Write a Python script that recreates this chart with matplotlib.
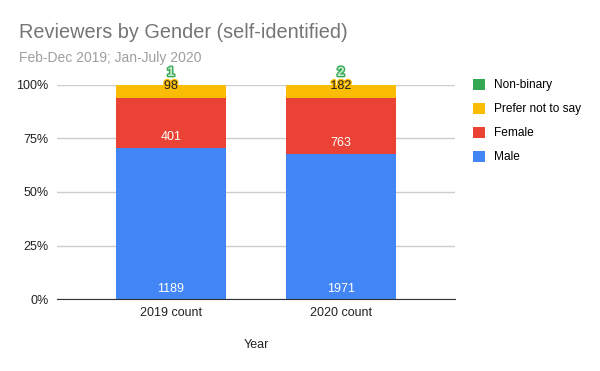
import matplotlib.pyplot as plt
import matplotlib.patheffects as pe
import numpy as np

plt.rcParams['font.family'] = ['Liberation Sans', 'DejaVu Sans']

# dane
years = ['2019 count', '2020 count']
male = np.array([1189, 1971])
female = np.array([401, 763])
prefer_not = np.array([98, 182])
non_binary = np.array([1, 2])

series = [('Male', male, '#4285F4'),
          ('Female', female, '#EA4335'),
          ('Prefer not to say', prefer_not, '#FBBC04'),
          ('Non-binary', non_binary, '#34A853')]

total = male + female + prefer_not + non_binary
x = np.arange(len(years))

fig = plt.figure(figsize=(6, 3.71), dpi=100)
ax = fig.add_axes([0.095, 0.194, 0.663, 0.577])

bottom = np.zeros(len(years))
handles = []
for name, vals, col in series:
    frac = vals / total * 100
    h = ax.bar(x, frac, bottom=bottom, width=0.647, color=col, label=name, zorder=3)
    handles.append(h)
    bottom = bottom + frac

# etykiety wartości
male_pct = male / total * 100
for i in range(len(years)):
    ax.annotate(str(male[i]), (x[i], 0), xytext=(0, 10), textcoords='offset pixels',
                ha='center', va='center', color='white', fontsize=9, zorder=5)
    ax.annotate(str(female[i]), (x[i], male_pct[i]), xytext=(0, 11),
                textcoords='offset pixels', ha='center', va='center',
                color='white', fontsize=9, zorder=5)
    ax.annotate(str(prefer_not[i]), (x[i], 100), xytext=(0, -1),
                textcoords='offset pixels', ha='center', va='center',
                color='#222222', fontsize=9, zorder=5,
                path_effects=[pe.withStroke(linewidth=2, foreground='#FBBC04')])
    ax.annotate(str(non_binary[i]), (x[i], 100), xytext=(0, 12),
                textcoords='offset pixels', ha='center', va='center',
                color='#c8ecd2', fontsize=9.5, fontweight='bold', zorder=5,
                path_effects=[pe.withStroke(linewidth=2, foreground='#34A853')])

ax.set_xlim(-0.67, 1.67)
ax.set_ylim(0, 100)
ax.set_yticks([0, 25, 50, 75, 100])
ax.set_yticklabels(['0%', '25%', '50%', '75%', '100%'])
ax.set_xticks(x)
ax.set_xticklabels(years)
ax.tick_params(length=0, labelsize=9, colors='#222222', pad=6)
ax.grid(axis='y', color='#cccccc', linewidth=1, zorder=0)
for s in ['top', 'right', 'left']:
    ax.spines[s].set_visible(False)
ax.spines['bottom'].set_color('#333333')
ax.spines['bottom'].set_zorder(4)
ax.set_xlabel('Year', fontsize=9, color='#222222', labelpad=14)

fig.text(19 / 600, 1 - 32 / 371, 'Reviewers by Gender (self-identified)',
         fontsize=14.3, color='#757575', va='center', ha='left')
fig.text(19 / 600, 1 - 58 / 371, 'Feb-Dec 2019; Jan-July 2020',
         fontsize=10, color='#9e9e9e', va='center', ha='left')

fig.legend(handles[::-1], [s[0] for s in series][::-1], loc='upper left',
           bbox_to_anchor=(462 / 600, 1 - 68 / 371), frameon=False, fontsize=8.6,
           handlelength=1.05, handleheight=1.05, labelspacing=0.95, handletextpad=0.7)

plt.savefig('out.png', dpi=100)
